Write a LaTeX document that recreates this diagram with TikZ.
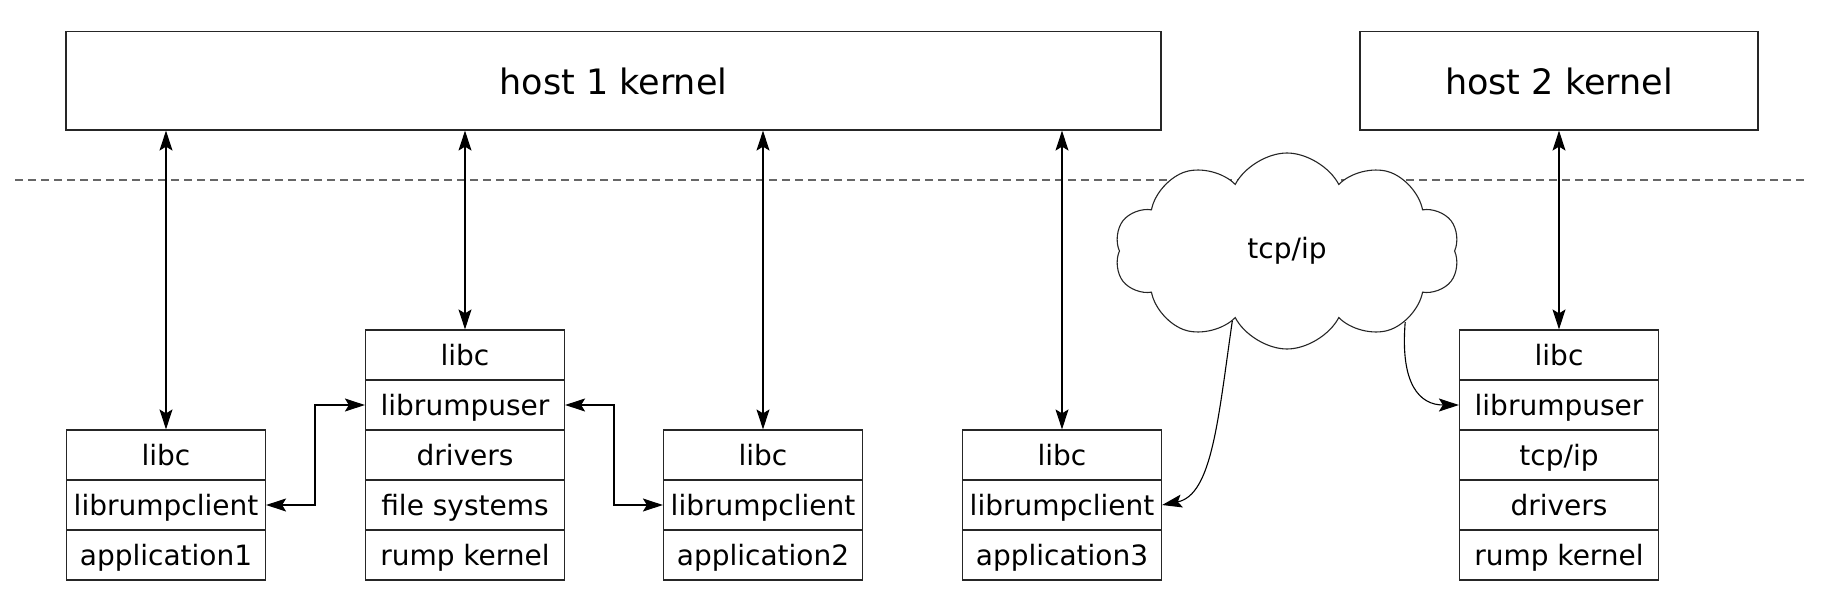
\documentclass[tikz,border=0pt]{standalone}
\usepackage{fontspec}
\setmainfont{DejaVu Sans}
\usetikzlibrary{arrows.meta,shapes.symbols}
\begin{document}
\begin{tikzpicture}[x=1pt,y=-1pt,
  row/.style={draw=black!85, line width=1.2pt, minimum width=199pt, minimum height=50pt,
    inner sep=0pt, text height=21.3pt, text depth=0pt, font=\fontsize{28}{30}\selectfont},
  kern/.style={draw=black!85, line width=1.2pt, minimum height=98.5pt, inner sep=0pt,
    text height=26.6pt, text depth=0pt, font=\fontsize{35}{40}\selectfont},
  tip/.tip={Stealth[length=20pt,width=13pt,inset=4pt]},
  arr/.style={line width=1.1pt, tip-tip},
  arrone/.style={line width=1.1pt, -tip},
]
\useasboundingbox (0,0) rectangle (1823,613);

% separator
\draw[black!60, line width=1.2pt, dash pattern=on 8pt off 5pt] (15,180) coordinate (sepL) -- (1806,180) coordinate (sepR);

% kernels
\node[kern, minimum width=1095pt] (host1) at (613.5,80.75) {host 1 kernel};
\node[kern, minimum width=398pt] (host2) at (1559,80.75) {host 2 kernel};

% stack 1
\node[row] (a1libc) at (166,455) {libc};
\node[row] (a1lrc)  at (166,505) {librumpclient};
\node[row] (a1app)  at (166,555) {application1};

% stack rump server 1
\node[row] (s1libc) at (465,355) {libc};
\node[row] (s1lru)  at (465,405) {librumpuser};
\node[row] (s1drv)  at (465,455) {drivers};
\node[row] (s1fs)   at (465,505) {file systems};
\node[row] (s1rk)   at (465,555) {rump kernel};

% stack 2
\node[row] (a2libc) at (763,455) {libc};
\node[row] (a2lrc)  at (763,505) {librumpclient};
\node[row] (a2app)  at (763,555) {application2};

% stack 3
\node[row] (a3libc) at (1062,455) {libc};
\node[row] (a3lrc)  at (1062,505) {librumpclient};
\node[row] (a3app)  at (1062,555) {application3};

% rump server 2
\node[row] (s2libc) at (1559,355) {libc};
\node[row] (s2lru)  at (1559,405) {librumpuser};
\node[row] (s2tcp)  at (1559,455) {tcp/ip};
\node[row] (s2drv)  at (1559,505) {drivers};
\node[row] (s2rk)   at (1559,555) {rump kernel};

% cloud
\node[cloud, draw=black!85, fill=white, line width=1.1pt, cloud puffs=10, cloud puff arc=125,
  cloud ignores aspect, minimum width=345pt, minimum height=196pt, inner sep=0pt,
  font=\fontsize{28}{30}\selectfont] (net) at (1287,251) {tcp/ip};

% syscalls to host kernels
\draw[arr] (a1libc.north) -- (a1libc.north |- host1.south);
\draw[arr] (s1libc.north) -- (s1libc.north |- host1.south);
\draw[arr] (a2libc.north) -- (a2libc.north |- host1.south);
\draw[arr] (a3libc.north) -- (a3libc.north |- host1.south);
\draw[arr] (s2libc.north) -- (s2libc.north |- host2.south);

% local client-server
\draw[arr] (a1lrc.east) -| (315,405) -- (s1lru.west);
\draw[arr] (s1lru.east) -| (614,505) -- (a2lrc.west);

% remote
\draw[arrone] (net.232) .. controls (1218,420) and (1212,495) .. (a3lrc.east);
\draw[arrone] (net.329) .. controls (1400,385) and (1420,405) .. (s2lru.west);
\end{tikzpicture}
\end{document}
